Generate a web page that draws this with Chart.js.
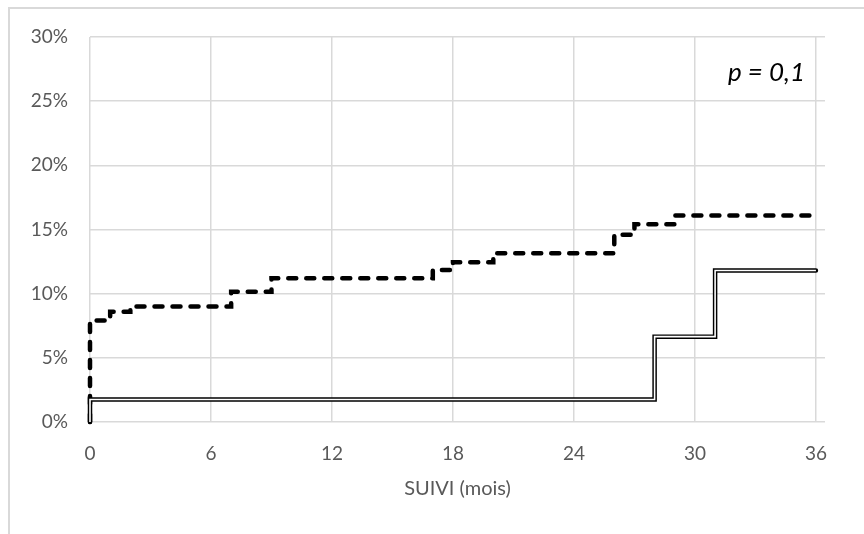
<!DOCTYPE html>
<html>
<head>
    <script src="https://cdn.jsdelivr.net/npm/chart.js@4.4.1/dist/chart.umd.min.js"></script>
    <style>
        body {
            margin: 0;
            padding: 0;
            background: #fff;
            width: 864px;
            height: 534px;
            overflow: hidden;
            position: relative;
        }

        /* outer frame of the chart object, its right and bottom edges fall off the page */
        #frame {
            position: absolute;
            left: 8px;
            top: 7px;
            width: 1000px;
            height: 1000px;
            border: 2px solid #d9d9d9;
        }

        #wrap {
            position: absolute;
            left: 0;
            top: 0;
            width: 864px;
            height: 534px;
        }
    </style>
</head>
<body>
<div id="frame"></div>
<div id="wrap">
    <canvas id="kmChart"></canvas>
</div>

<script>
    // follow-up in months and cumulative incidence in %
    const xTicks = [0, 6, 12, 18, 24, 30, 36];
    const yTicks = [0, 5, 10, 15, 20, 25, 30];

    const dashedMonths = [0, 0, 1, 2, 7, 9, 17, 18, 20, 26, 27, 29, 36];
    const dashedRates = [0, 7.9, 8.6, 9.0, 10.15, 11.2, 11.85, 12.45, 13.15, 14.6, 15.4, 16.1, 16.1];

    const doubleMonths = [0, 0, 28, 31, 36];
    const doubleRates = [0, 1.75, 6.65, 11.8, 11.8];

    const pValue = 'p = 0,1';

    function toPoints(xs, ys) {
        return xs.map((x, i) => ({x: x, y: ys[i]}));
    }

    const pLabel = {
        id: 'pLabel',
        afterDraw(chart) {
            const ctx = chart.ctx;
            const area = chart.chartArea;
            ctx.save();
            ctx.font = 'italic 26px Lato';
            ctx.fillStyle = '#000';
            ctx.textAlign = 'right';
            ctx.textBaseline = 'middle';
            ctx.fillText(pValue, area.right - 20, area.top + 36);
            ctx.restore();
        }
    };

    // datasets are painted last-to-first, so the white core comes first to end up on top
    const ctx = document.getElementById('kmChart').getContext('2d');
    const kmChart = new Chart(ctx, {
        type: 'line',
        data: {
            datasets: [
                {
                    label: 'double-inner',
                    data: toPoints(doubleMonths, doubleRates),
                    borderColor: '#fff',
                    borderWidth: 1.6,
                    stepped: true,
                    fill: false,
                    clip: false,
                    pointRadius: 0
                },
                {
                    label: 'double-outer',
                    data: toPoints(doubleMonths, doubleRates),
                    borderColor: '#000',
                    borderWidth: 4.5,
                    borderCapStyle: 'round',
                    stepped: true,
                    fill: false,
                    clip: false,
                    pointRadius: 0
                },
                {
                    label: 'dashed',
                    data: toPoints(dashedMonths, dashedRates),
                    borderColor: '#000',
                    borderWidth: 4.5,
                    borderDash: [8, 10],
                    borderCapStyle: 'round',
                    stepped: true,
                    fill: false,
                    clip: false,
                    pointRadius: 0
                }
            ]
        },
        options: {
            responsive: true,
            maintainAspectRatio: false,
            animation: false,
            layout: {padding: {top: 37, right: 39, left: 0, bottom: 0}},
            plugins: {
                legend: {display: false},
                tooltip: {enabled: false}
            },
            scales: {
                x: {
                    type: 'linear',
                    min: 0,
                    max: 36.45,
                    afterBuildTicks: axis => {
                        axis.ticks = xTicks.map(v => ({value: v}));
                    },
                    afterFit: scale => {
                        scale.height = 112;
                    },
                    grid: {color: '#d9d9d9', lineWidth: 1.5, drawTicks: false},
                    border: {display: false},
                    ticks: {
                        color: '#595959',
                        font: {family: 'Lato', size: 19},
                        padding: 20,
                        maxRotation: 0
                    },
                    title: {
                        display: true,
                        text: 'SUIVI (mois)',
                        color: '#595959',
                        font: {family: 'Lato', size: 20},
                        padding: {top: 0, bottom: 33}
                    }
                },
                y: {
                    min: 0,
                    max: 30,
                    afterBuildTicks: axis => {
                        axis.ticks = yTicks.map(v => ({value: v}));
                    },
                    afterFit: scale => {
                        scale.width = 90;
                    },
                    grid: {color: '#d9d9d9', lineWidth: 1.5, drawTicks: false},
                    border: {display: false},
                    ticks: {
                        color: '#595959',
                        font: {family: 'Lato', size: 19},
                        padding: 22,
                        callback: v => v + '%'
                    }
                }
            }
        },
        plugins: [pLabel]
    });
</script>
</body>
</html>
